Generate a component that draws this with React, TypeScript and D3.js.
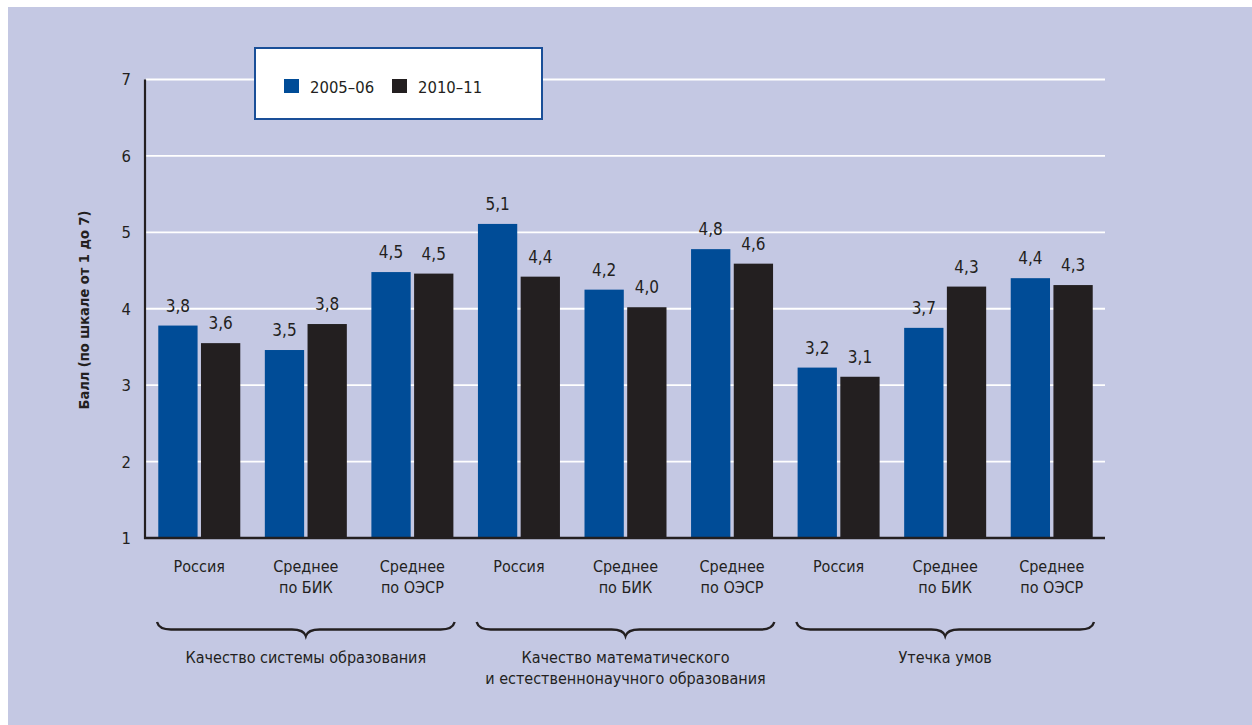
import React from "react";
import * as d3 from "d3";

const groupNames = [
  ["Качество системы образования"],
  ["Качество математического", "и естественнонаучного образования"],
  ["Утечка умов"],
];
const subNames = [["Россия"], ["Среднее", "по БИК"], ["Среднее", "по ОЭСР"]];
const series = ["2005–06", "2010–11"];
const values0506 = [3.78, 3.46, 4.48, 5.11, 4.25, 4.78, 3.23, 3.75, 4.4];
const values1011 = [3.55, 3.8, 4.46, 4.42, 4.02, 4.59, 3.11, 4.29, 4.31];
const labels0506 = ["3,8", "3,5", "4,5", "5,1", "4,2", "4,8", "3,2", "3,7", "4,4"];
const labels1011 = ["3,6", "3,8", "4,5", "4,4", "4,0", "4,6", "3,1", "4,3", "4,3"];
const yTicks = [1, 2, 3, 4, 5, 6, 7];
const yTitle = "Балл (по шкале от 1 до 7)";

const BG = "#c4c8e3";
const BLUE = "#004c97";
const DARK = "#231f20";
const FONT = "'Liberation Sans Narrow', 'DejaVu Sans Condensed', 'Roboto Condensed', sans-serif";

export default function App() {
  const left = 146;
  const right = 1105;
  const top = 79.5;
  const bottom = 538;

  const cats = d3.range(9).map((i) => `c${i}`);
  const x = d3.scaleBand<string>().domain(cats).range([left, right]).padding(0);
  const y = d3.scaleLinear().domain([1, 7]).range([bottom, top]);
  const pairW = 82;
  const inner = d3
    .scaleBand<string>()
    .domain(series)
    .range([0, pairW])
    .paddingInner(0.08)
    .paddingOuter(0);
  const colors = [BLUE, DARK];
  const vals = [values0506, values1011];
  const labs = [labels0506, labels1011];

  const bracePath = (x0: number, x1: number) => {
    const yTop = 622;
    const yLine = 629.5;
    const yBot = 636;
    const m = (x0 + x1) / 2;
    const r = 14;
    return `M${x0},${yTop} Q${x0 + 2},${yLine} ${x0 + r},${yLine} L${m - r},${yLine} Q${m - 2},${yLine} ${m},${yBot} Q${m + 2},${yLine} ${m + r},${yLine} L${x1 - r},${yLine} Q${x1 - 2},${yLine} ${x1},${yTop}`;
  };

  return (
    <svg
      width={1252}
      height={725}
      style={{ position: "absolute", left: 0, top: 0, fontFamily: FONT }}
    >
      <rect x={8} y={7} width={1244} height={718} fill={BG} />
      {yTicks.slice(1).map((t) => (
        <line key={t} x1={left} x2={right} y1={y(t)} y2={y(t)} stroke="#fff" strokeWidth={1.8} />
      ))}
      {yTicks.map((t) => (
        <text key={t} x={131} y={y(t)} dy="0.36em" textAnchor="end" fontSize={16.5} fill={DARK}>
          {t}
        </text>
      ))}
      {cats.map((c, i) =>
        series.map((s, k) => {
          const bx = (x(c) as number) + (x.bandwidth() - pairW) / 2 + (inner(s) as number);
          const v = vals[k][i];
          return (
            <g key={c + s}>
              <rect x={bx} y={y(v)} width={inner.bandwidth()} height={bottom - y(v)} fill={colors[k]} />
              <text
                x={bx + inner.bandwidth() / 2}
                y={y(v) - 14}
                textAnchor="middle"
                fontSize={17}
                fill={DARK}
              >
                {labs[k][i]}
              </text>
            </g>
          );
        })
      )}
      <line x1={left - 1} x2={left - 1} y1={top} y2={bottom + 1} stroke={DARK} strokeWidth={2.2} />
      <line x1={left - 2} x2={right} y1={bottom} y2={bottom} stroke={DARK} strokeWidth={2.4} />
      {cats.map((c, i) => (
        <text
          key={c}
          x={(x(c) as number) + x.bandwidth() / 2}
          y={572}
          textAnchor="middle"
          fontSize={16}
          fill={DARK}
        >
          {subNames[i % 3].map((l, j) => (
            <tspan key={j} x={(x(c) as number) + x.bandwidth() / 2} dy={j === 0 ? 0 : 21}>
              {l}
            </tspan>
          ))}
        </text>
      ))}
      {groupNames.map((g, gi) => {
        const x0 = (x(cats[gi * 3]) as number) + 11;
        const x1 = (x(cats[gi * 3 + 2]) as number) + x.bandwidth() - 11;
        const cx = (x0 + x1) / 2;
        return (
          <g key={gi}>
            <path d={bracePath(x0, x1)} fill="none" stroke={DARK} strokeWidth={2.4} />
            <text x={cx} y={663} textAnchor="middle" fontSize={16} fill={DARK}>
              {g.map((l, j) => (
                <tspan key={j} x={cx} dy={j === 0 ? 0 : 21}>
                  {l}
                </tspan>
              ))}
            </text>
          </g>
        );
      })}
      <text
        transform={`translate(89,310) rotate(-90)`}
        textAnchor="middle"
        fontSize={14.5}
        fontWeight="bold"
        fill={DARK}
      >
        {yTitle}
      </text>
      <rect x={255} y={48} width={287} height={71} fill="#fff" stroke="#1a4f98" strokeWidth={2} />
      {series.map((s, k) => (
        <g key={s}>
          <rect x={284 + k * 108} y={79} width={15} height={14} fill={colors[k]} />
          <text x={310 + k * 108} y={93} fontSize={16.5} fill={DARK}>
            {s}
          </text>
        </g>
      ))}
    </svg>
  );
}
